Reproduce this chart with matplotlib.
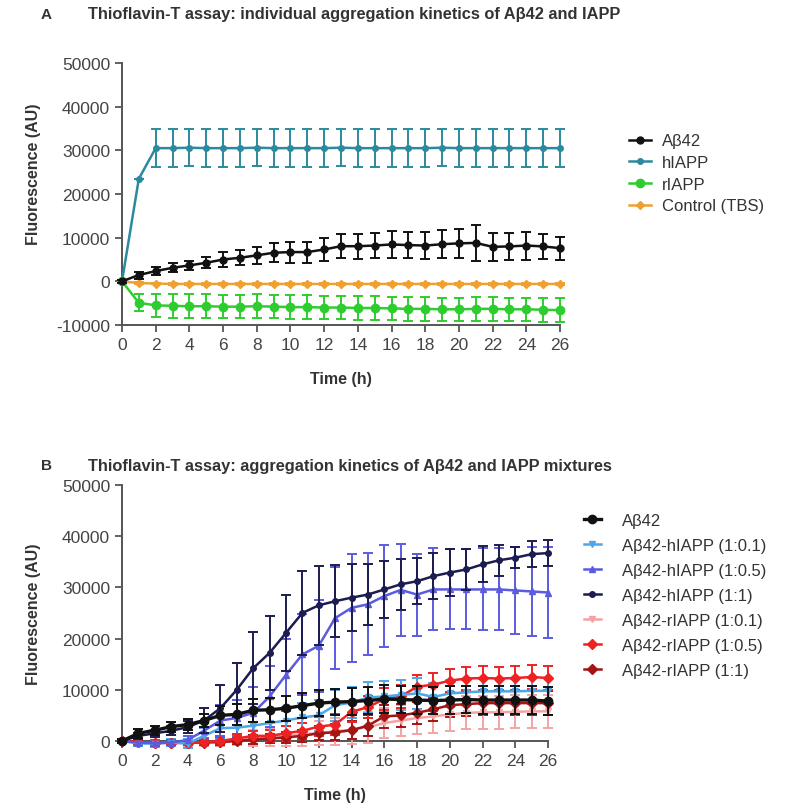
import numpy as np
import matplotlib
matplotlib.use("Agg")
import matplotlib.pyplot as plt

plt.rcParams["font.family"] = ["Liberation Sans", "DejaVu Sans"]
plt.rcParams["axes.unicode_minus"] = False

TXT = "#333333"
AX = "#555555"

hours = list(range(27))

# ---- panel A : individual kinetics ----
ab42_a = [0, 1450, 2350, 3100, 3650, 4250, 5000, 5400, 5950, 6550, 6700, 6700, 7300, 8050,
          8050, 8200, 8450, 8300, 8200, 8500, 8700, 8800, 7900, 8000, 8200, 8000, 7600]
ab42_a_err = [300, 800, 900, 1000, 1100, 1300, 1700, 1700, 2000, 2200, 2400, 2400, 2600, 2800,
              2900, 2900, 3000, 3000, 3000, 3200, 3400, 4200, 3200, 3000, 3200, 2800, 2600]
hiapp = [0, 23500, 30500, 30500, 30600, 30500, 30500, 30500, 30600, 30500, 30500, 30500, 30500,
         30600, 30500, 30500, 30500, 30500, 30500, 30600, 30500, 30500, 30500, 30500, 30500,
         30500, 30500]
hiapp_err = [0, 0, 4300, 4300, 4300, 4300, 4300, 4300, 4300, 4300, 4300, 4300, 4300, 4300,
             4300, 4300, 4300, 4300, 4300, 4300, 4300, 4300, 4300, 4300, 4300, 4300, 4300]
riapp = [0, -4900, -5500, -5600, -5700, -5700, -5800, -5800, -5700, -5800, -5900, -5900, -6000,
         -6000, -6100, -6100, -6200, -6300, -6300, -6400, -6400, -6300, -6300, -6400, -6400,
         -6500, -6600]
riapp_err = [0, 2000, 2600, 2700, 2700, 2700, 2700, 2700, 2700, 2700, 2700, 2700, 2700, 2700,
             2700, 2700, 2700, 2700, 2700, 2700, 2700, 2700, 2700, 2700, 2700, 2700, 2700]
ctrl = [0, -400, -500, -600, -600, -600, -600, -600, -600, -600, -600, -600, -600, -600,
        -600, -600, -600, -600, -600, -600, -600, -600, -600, -600, -600, -600, -600]
ctrl_err = [0, 200, 200, 200, 200, 200, 200, 200, 200, 200, 200, 200, 200, 200,
            200, 200, 200, 200, 200, 200, 200, 200, 200, 200, 200, 200, 200]

# ---- panel B : mixtures ----
ab42_b = [0, 1500, 2100, 2800, 3200, 4000, 5000, 5200, 6000, 6100, 6400, 6900, 7400, 7600,
          7700, 7900, 8200, 8100, 8000, 7900, 8000, 8100, 8000, 8000, 8000, 8000, 7800]
ab42_b_err = [300, 900, 900, 1000, 1100, 1300, 1800, 2000, 2200, 2300, 2400, 2500, 2500, 2600,
              2600, 2600, 2700, 2700, 2700, 2700, 2700, 2700, 2700, 2700, 2700, 2700, 2700]
h01 = [0, -500, -500, -300, -500, 1000, 2500, 2600, 3000, 3500, 4000, 4600, 5000, 7000,
       7500, 8500, 8700, 9000, 9300, 8600, 9300, 9500, 9700, 9700, 9700, 9800, 9800]
h01_err = [0, 500, 600, 600, 800, 1500, 2200, 2500, 2500, 2600, 2600, 2800, 3000, 3000,
           3000, 3000, 3000, 3000, 3000, 2800, 2600, 2500, 2500, 2500, 2500, 2500, 2500]
h05 = [0, -300, -400, -300, 200, 2000, 4000, 4500, 5500, 8700, 12900, 16900, 18600, 24000,
       26000, 26700, 28300, 29500, 28600, 29600, 29600, 29600, 29600, 29600, 29400, 29200, 29000]
h05_err = [0, 400, 500, 500, 800, 1500, 3000, 3500, 5000, 6000, 7000, 8000, 9000, 10000,
           10500, 10000, 10000, 9000, 8000, 8000, 7800, 7800, 8000, 8000, 8500, 8600, 8800]
h11 = [0, 1000, 1500, 2000, 2700, 4000, 6400, 10000, 14200, 17200, 21100, 25000, 26500, 27300,
       28000, 28600, 29600, 30600, 31200, 32200, 32900, 33500, 34500, 35300, 35800, 36500, 36700]
h11_err = [0, 600, 700, 900, 1200, 2500, 4600, 5300, 7000, 7200, 7500, 8200, 7700, 7000,
           6500, 6000, 5500, 5000, 4500, 4500, 4500, 4000, 3500, 3000, 2000, 2500, 2500]
r01 = [0, -300, -400, -400, -400, -300, -200, 200, 600, 800, 1000, 1300, 1600, 1900,
       2200, 2700, 3500, 4000, 4500, 4800, 5200, 5500, 5600, 5600, 5700, 5800, 5800]
r01_err = [0, 500, 500, 500, 600, 600, 700, 1000, 1500, 1800, 2000, 2200, 2400, 2600,
           2800, 3000, 3000, 3000, 3200, 3200, 3200, 3200, 3200, 3200, 3200, 3200, 3200]
r05 = [0, -200, -300, -300, -300, -200, 0, 500, 1000, 1000, 1500, 2000, 2800, 3200,
       5700, 6600, 8200, 8700, 10600, 11000, 11800, 12200, 12300, 12200, 12300, 12500, 12300]
r05_err = [0, 400, 500, 500, 500, 500, 600, 800, 1000, 1200, 1400, 1600, 1800, 2000,
           2000, 2200, 2200, 2200, 2300, 2300, 2300, 2300, 2300, 2300, 2300, 2300, 2300]
r11 = [0, -200, -300, -300, -300, -300, -200, 0, 300, 500, 700, 1000, 1500, 1700,
       2100, 3000, 4800, 5000, 5500, 6200, 7000, 7200, 7400, 7400, 7400, 7400, 7400]
r11_err = [0, 400, 400, 400, 500, 500, 500, 600, 800, 900, 1000, 1200, 1400, 1600,
           1800, 2000, 2200, 2200, 2200, 2200, 2300, 2300, 2300, 2300, 2300, 2300, 2300]

fig = plt.figure(figsize=(7.85, 8.12), dpi=100)
fig.patch.set_facecolor("white")


def _style(ax, ylim, yticks):
    ax.set_xlim(0, 26)
    ax.set_ylim(*ylim)
    ax.set_xticks(range(0, 27, 2))
    ax.set_yticks(yticks)
    for s in ["top", "right"]:
        ax.spines[s].set_visible(False)
    for s in ["left", "bottom"]:
        ax.spines[s].set_color(AX)
        ax.spines[s].set_linewidth(1.4)
    ax.tick_params(colors=AX, labelcolor="#444444", labelsize=12.5, width=1.3, length=5,
                   direction="out")
    ax.set_xlabel("Time (h)", fontsize=11.5, fontweight="bold", color=TXT, labelpad=14)
    ax.set_ylabel("Fluorescence (AU)", fontsize=11.5, fontweight="bold", color=TXT)


def _series(ax, y, err, color, marker, ms, label, lw=1.8, z=3):
    return ax.errorbar(hours, y, yerr=err, color=color, marker=marker, ms=ms, lw=lw,
                       elinewidth=1.4, capsize=3.5, capthick=1.4, label=label, zorder=z,
                       clip_on=False)


# ---------------- panel A ----------------
axA = fig.add_axes([0.1554, 0.5985, 0.558, 0.3227])
e_h = _series(axA, hiapp, hiapp_err, "#2b8a9e", "o", 4, "hIAPP")
e_a = _series(axA, ab42_a, ab42_a_err, "#111111", "o", 5, "Aβ42", z=4)
e_r = _series(axA, riapp, riapp_err, "#2fcc2f", "o", 6, "rIAPP")
e_c = _series(axA, ctrl, ctrl_err, "#f0a030", "D", 4, "Control (TBS)")
_style(axA, (-10000, 50000), range(-10000, 50001, 10000))
axA.yaxis.set_label_coords(-0.185, 0.58)

axA.legend([e_a[0], e_h[0], e_r[0], e_c[0]], ["Aβ42", "hIAPP", "rIAPP", "Control (TBS)"],
           loc="upper left", bbox_to_anchor=(0.782, 0.853), bbox_transform=fig.transFigure,
           frameon=False, fontsize=12, labelcolor=TXT, handlelength=1.3,
           handletextpad=0.7, labelspacing=0.4)

fig.text(0.052, 0.982, "A", fontsize=11, fontweight="bold", color=TXT, va="center")
fig.text(0.112, 0.982, "Thioflavin-T assay: individual aggregation kinetics of Aβ42 and IAPP",
         fontsize=11.8, fontweight="bold", color=TXT, va="center")

# ---------------- panel B ----------------
axB = fig.add_axes([0.1554, 0.0862, 0.543, 0.3153])
e_r01 = _series(axB, r01, r01_err, "#f4a3a3", "v", 5, "Aβ42-rIAPP (1:0.1)")
e_r11 = _series(axB, r11, r11_err, "#a31515", "D", 5, "Aβ42-rIAPP (1:1)")
e_r05 = _series(axB, r05, r05_err, "#ee2222", "D", 5, "Aβ42-rIAPP (1:0.5)")
e_h01 = _series(axB, h01, h01_err, "#4da6e8", "v", 5, "Aβ42-hIAPP (1:0.1)")
e_h05 = _series(axB, h05, h05_err, "#5b5be0", "^", 5, "Aβ42-hIAPP (1:0.5)")
e_h11 = _series(axB, h11, h11_err, "#1c1c50", "o", 4, "Aβ42-hIAPP (1:1)", z=5)
e_ab = _series(axB, ab42_b, ab42_b_err, "#111111", "o", 6, "Aβ42", lw=2.4, z=6)
_style(axB, (0, 50000), range(0, 50001, 10000))
axB.yaxis.set_label_coords(-0.19, 0.5)

axB.legend([e_ab[0], e_h01[0], e_h05[0], e_h11[0], e_r01[0], e_r05[0], e_r11[0]],
           ["Aβ42", "Aβ42-hIAPP (1:0.1)", "Aβ42-hIAPP (1:0.5)", "Aβ42-hIAPP (1:1)",
            "Aβ42-rIAPP (1:0.1)", "Aβ42-rIAPP (1:0.5)", "Aβ42-rIAPP (1:1)"],
           loc="upper left", bbox_to_anchor=(0.725, 0.386), bbox_transform=fig.transFigure,
           frameon=False, fontsize=12, labelcolor=TXT, handlelength=1.0,
           handletextpad=1.3, labelspacing=0.6)

fig.text(0.052, 0.426, "B", fontsize=11, fontweight="bold", color=TXT, va="center")
fig.text(0.112, 0.426, "Thioflavin-T assay: aggregation kinetics of Aβ42 and IAPP mixtures",
         fontsize=11.8, fontweight="bold", color=TXT, va="center")

fig.savefig("out.png", dpi=100, facecolor="white")
